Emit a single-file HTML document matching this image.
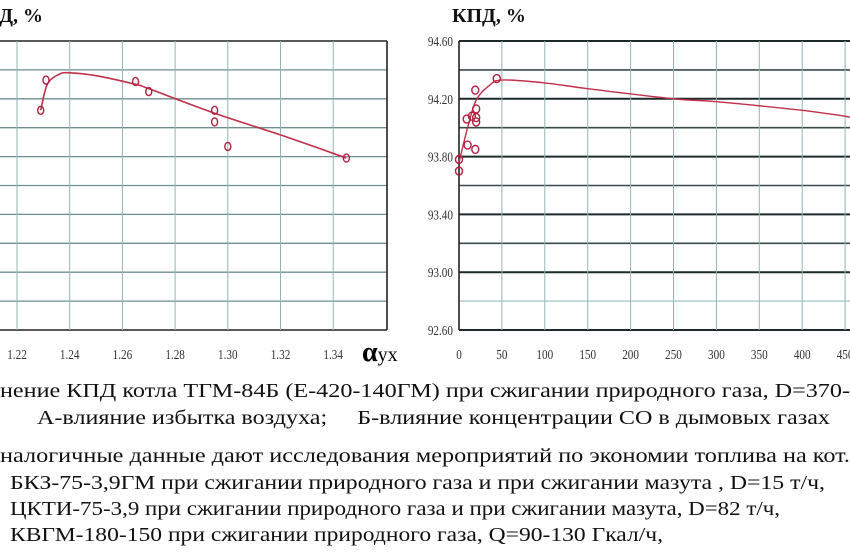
<!DOCTYPE html>
<html><head><meta charset="utf-8">
<style>
html,body{margin:0;padding:0;background:#fff;width:850px;height:560px;overflow:hidden}
svg{display:block}
.cap{font-family:"Liberation Serif",serif;font-size:19.5px;fill:#111}
.tick{font-family:"Liberation Serif",serif;font-size:14px;fill:#333}
.ttl{font-family:"Liberation Serif",serif;font-size:20px;font-weight:bold;fill:#111}
</style></head>
<body>
<svg id="chart" width="850" height="560" viewBox="0 0 850 560">
<text class="ttl" x="43" y="22" text-anchor="end">КПД, %</text>
<text class="ttl" x="452" y="22">КПД, %</text>
<g id="left"></g>
<g id="right"></g>
<text x="362" y="361" style="font-family:'Liberation Serif',serif"><tspan font-size="28" font-weight="bold">α</tspan><tspan font-size="20">ух</tspan></text>
<text class="cap" x="0" y="397" textLength="850" lengthAdjust="spacingAndGlyphs">нение КПД котла ТГМ-84Б (Е-420-140ГМ) при сжигании природного газа, D=370-</text>
<text class="cap" x="37" y="424" textLength="793" lengthAdjust="spacingAndGlyphs">А-влияние избытка воздуха;&#160;&#160;&#160;&#160; Б-влияние концентрации СО в дымовых газах</text>
<text class="cap" x="0" y="462" textLength="850" lengthAdjust="spacingAndGlyphs">налогичные данные дают исследования мероприятий по экономии топлива на кот.</text>
<text class="cap" x="10" y="489" textLength="815" lengthAdjust="spacingAndGlyphs">БКЗ-75-3,9ГМ при сжигании природного газа и при сжигании мазута , D=15 т/ч,</text>
<text class="cap" x="10" y="515" textLength="770" lengthAdjust="spacingAndGlyphs">ЦКТИ-75-3,9 при сжигании природного газа и при сжигании мазута, D=82 т/ч,</text>
<text class="cap" x="10" y="541" textLength="653" lengthAdjust="spacingAndGlyphs">КВГМ-180-150 при сжигании природного газа, Q=90-130 Гкал/ч,</text>
</svg>
<script>
// Left chart data (alpha)
const leftXTicks = [1.22,1.24,1.26,1.28,1.30,1.32,1.34];
const leftXTickLabels = ["1.22","1.24","1.26","1.28","1.30","1.32","1.34"];
const leftPtsX = [1.229,1.231,1.265,1.270,1.295,1.295,1.300,1.345];
const leftPtsY = [94.12,94.33,94.32,94.25,94.12,94.04,93.87,93.79];
const leftCurveX = [1.229,1.2315,1.236,1.240,1.250,1.265,1.270,1.295,1.320,1.345];
const leftCurveY = [94.12,94.30,94.37,94.38,94.36,94.30,94.27,94.10,93.95,93.79];
// Right chart data (CO, ppm)
const rightYTicks = [92.60,93.00,93.40,93.80,94.20,94.60];
const rightYTickLabels = ["92.60","93.00","93.40","93.80","94.20","94.60"];
const rightXTicks = [0,50,100,150,200,250,300,350,400,450];
const rightPtsX = [0,0,9,10,15,19,19,20,20,20,44];
const rightPtsY = [93.78,93.70,94.06,93.88,94.08,93.85,94.26,94.13,94.07,94.04,94.34];
const rightCurveX = [0,10,20,35,50,100,150,250,300,400,460];
const rightCurveY = [93.76,94.00,94.19,94.29,94.33,94.31,94.27,94.20,94.18,94.12,94.07];

const NS="http://www.w3.org/2000/svg";
const top0=41, bot0=330;
function yS(v){return bot0-(v-92.60)/2.0*(bot0-top0);}
function lx(v){return 17+(v-1.22)/0.02*52.7;}
function rx(v){return 459+(v-0)/50*42.9;}
function mk(parent,tag,attrs){const e=document.createElementNS(NS,tag);for(const k in attrs)e.setAttribute(k,attrs[k]);parent.appendChild(e);return e;}
function smooth(xs,ys){let d="M"+xs[0]+","+ys[0];for(let i=0;i<xs.length-1;i++){const x0=xs[Math.max(i-1,0)],y0=ys[Math.max(i-1,0)],x1=xs[i],y1=ys[i],x2=xs[i+1],y2=ys[i+1],x3=xs[Math.min(i+2,xs.length-1)],y3=ys[Math.min(i+2,xs.length-1)];d+=" C"+(x1+(x2-x0)/6)+","+(y1+(y2-y0)/6)+" "+(x2-(x3-x1)/6)+","+(y2-(y3-y1)/6)+" "+x2+","+y2;}return d;}
function tickText(parent,x,y,anchor,str){
 const g=mk(parent,'g',{transform:'translate('+x+','+y+') scale(0.8,1)'});
 const tx=mk(g,'text',{x:0,y:0,'text-anchor':anchor,class:'tick'});tx.textContent=str;return tx;}

// LEFT
const L=document.getElementById('left');
for(let i=0;i<=10;i++){const v=92.60+i*0.2;const y=yS(v);
 const ln=mk(L,'line',{x1:0,x2:387,y1:y,y2:y,stroke:(i==0||i==10)?'#222':'#6f8f8f','stroke-width':(i==0||i==10)?1.6:1.3});
 
 }
leftXTicks.forEach((t,i)=>{const x=lx(t);
 const ln=mk(L,'line',{x1:x,x2:x,y1:top0,y2:bot0,stroke:'#8fb5b5','stroke-width':1});
 
 
 const tx=tickText(L,x,359,'middle',leftXTickLabels[i]);
 
 });
const lb=mk(L,'line',{x1:387,x2:387,y1:top0,y2:bot0,stroke:'#222','stroke-width':1.6});


const lc=mk(L,'path',{d:smooth(leftCurveX.map(lx),leftCurveY.map(yS)),fill:'none',stroke:'#c0304a','stroke-width':1.6});


leftPtsX.forEach((v,i)=>{const c=mk(L,'ellipse',{cx:lx(v),cy:yS(leftPtsY[i]),rx:3,ry:4,fill:'none',stroke:'#b02040','stroke-width':1.4});
 
 });

// RIGHT
const R=document.getElementById('right');
for(let i=0;i<=10;i++){const v=92.60+i*0.2;const y=yS(v);
 const ln=mk(R,'line',{x1:459,x2:850,y1:y,y2:y,stroke:i%2==0?'#1e2a2a':'#3a4a4a','stroke-width':i%2==0?2:1.6});
 if(i==1)ln.setAttribute('stroke','#b8d0d0');
 
 }
rightYTicks.forEach((t,i)=>{const tx=tickText(R,453,yS(t)+5,'end',rightYTickLabels[i]);
 
 });
rightXTicks.forEach((t)=>{const x=rx(t);
 const ln=mk(R,'line',{x1:x,x2:x,y1:top0,y2:bot0,stroke:t==0?'#222':'#8fb5b5','stroke-width':t==0?1.6:1});
 
 
 const tx=tickText(R,x,359,'middle',String(t));
 
 });
const rc=mk(R,'path',{d:smooth(rightCurveX.map(rx),rightCurveY.map(yS)),fill:'none',stroke:'#c0304a','stroke-width':1.4});


rightPtsX.forEach((v,i)=>{const c=mk(R,'ellipse',{cx:rx(v),cy:yS(rightPtsY[i]),rx:3.5,ry:4,fill:'none',stroke:'#b02040','stroke-width':1.4});
 
 });
</script>
</body></html>
